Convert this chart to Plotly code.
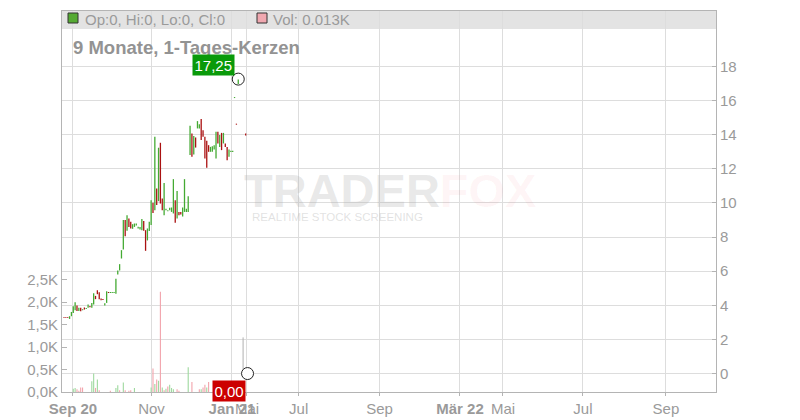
import plotly.graph_objects as go

# ---------------- data ----------------
day = list(range(92)) + [92, 93, 94, 98]
opens = [3.30, 3.30, 3.30, 3.20, 3.36, 3.55, 3.71, 3.99, 3.67, 3.85,
         3.71, 3.87, 3.78, 3.85, 3.96, 3.85, 4.04, 4.55, 4.88, 4.77,
         4.40, 4.37, 3.99, 4.14, 4.78, 4.72, 4.72, 4.72, 4.67, 5.80,
         6.04, 6.74, 7.27, 9.00, 8.36, 9.08, 8.90, 8.48, 8.59, 8.67,
         8.50, 8.44, 8.40, 8.94, 8.40, 7.80, 8.35, 8.70, 10.00, 9.57,
         10.84, 10.10, 13.52, 10.26, 9.28, 9.57, 9.51, 9.57, 9.47, 9.38,
         10.16, 9.08, 9.47, 9.47, 9.20, 9.47, 9.47, 9.47, 12.80, 14.07,
         12.84, 13.83, 14.36, 14.36, 14.91, 14.26, 13.87, 13.64, 13.38, 12.99,
         12.99, 13.13, 12.60, 14.16, 13.28, 14.10, 13.48, 13.48, 13.28, 12.70,
         12.98, 12.98,
         16.14, 14.64, 16.96, 14.07]
closes = [3.25, 3.25, 3.25, 3.36, 3.61, 3.95, 4.18, 3.67, 3.85, 3.65,
          3.77, 3.75, 3.84, 4.04, 3.89, 4.14, 4.71, 4.36, 4.65, 4.36,
          4.30, 4.31, 4.12, 4.82, 4.72, 4.78, 4.78, 4.78, 5.55, 6.04,
          6.41, 7.23, 8.99, 8.05, 9.28, 8.59, 8.50, 8.75, 8.79, 8.79,
          8.60, 8.59, 9.06, 8.36, 7.19, 8.50, 8.90, 10.16, 9.41, 13.87,
          9.87, 13.23, 9.96, 9.57, 11.17, 9.65, 9.57, 9.71, 9.73, 11.39,
          8.83, 10.70, 9.28, 9.32, 9.73, 11.39, 9.65, 10.39, 14.52, 12.70,
          13.91, 13.24, 14.79, 14.60, 13.68, 13.87, 12.60, 12.05, 12.99, 13.28,
          13.32, 13.38, 14.16, 13.48, 13.97, 13.09, 14.10, 13.28, 12.50, 13.13,
          13.06, 13.06,
          16.20, 14.58, 17.23, 13.95]
highs = [max(o, c) for o, c in zip(opens, closes)]
lows = [min(o, c) for o, c in zip(opens, closes)]

vol_day = [5, 6, 7, 8, 9, 10, 15, 16, 17, 18, 19, 25, 28, 29, 30, 32, 33, 35, 36, 38,
           47, 48, 49, 50, 51, 52, 53, 54, 55, 56, 57, 58, 59, 61, 62, 67, 69,
           73, 74, 75, 76, 77, 78]
vol_k = [0.07, 0.09, 0.06, 0.03, 0.10, 0.10, 0.24, 0.41, 0.09, 0.28, 0.04, 0.03, 0.09, 0.15,
         0.04, 0.21, 0.04, 0.03, 0.04, 0.09,
         0.10, 0.52, 0.18, 0.28, 0.25, 2.23, 0.10, 0.04, 0.07, 0.12, 0.16, 0.09, 0.06,
         0.06, 0.03, 0.55, 0.22, 0.06, 0.06, 0.10, 0.16, 0.10, 0.22]
vol_up = [1, 1, 0, 0, 0, 0, 1, 1, 0, 1, 0, 0, 1, 1, 0, 1, 0, 0, 0, 1,
          1, 0, 1, 0, 1, 0, 1, 0, 1, 0, 1, 1, 1, 0, 0, 1, 0, 0, 1, 0, 0, 1, 0]

last_line_day = [96.6, 96.6]
last_line_price = [0.0, 2.12]

hi_marker_day, hi_marker_price, hi_label = 94, 17.25, "17,25"
lo_marker_day, lo_marker_price, lo_label = 99, 0.0, "0,00"

tick_pos = [4.85, 47.2, 90.6, 98.7, 126.6, 170.2, 213.6, 236.8, 279.9, 324.7]
tick_txt = ["<b>Sep 20</b>", "Nov", "<b>Jan 21</b>", "Mai", "Jul", "Sep",
            "<b>Mär 22</b>", "Mai", "Jul", "Sep"]
price_ticks = [0, 2, 4, 6, 8, 10, 12, 14, 16, 18]
vol_ticks = [0, 0.5, 1.0, 1.5, 2.0, 2.5]
vol_tick_txt = ["0,0K", "0,5K", "1,0K", "1,5K", "2,0K", "2,5K"]

# ---------------- styling ----------------
FONT = "Liberation Sans, Arial, sans-serif"
GREY = "#9a9a9a"
GRID = "#dddddd"
AXL = "#b4b4b4"
UP = "#44aa33"
DN = "#aa1111"

W, H = 800, 420
L, R, T, B = 62, 84, 11, 28
PW, PH = W - L - R, H - T - B


def px(x):
    return (x - L) / PW


def py(y):
    return (H - B - y) / PH


fig = go.Figure()

fig.add_trace(go.Bar(
    x=vol_day, y=vol_k, yaxis="y2", width=0.6,
    marker=dict(color=["#9fd99f" if u else "#f2a4ac" for u in vol_up], line=dict(width=0)),
    hoverinfo="skip", showlegend=False))

fig.add_trace(go.Scatter(
    x=last_line_day, y=last_line_price, mode="lines",
    line=dict(color="#b0b0b0", width=1), hoverinfo="skip", showlegend=False))

# candles: body spans low..high, coloured by direction
fig.add_trace(go.Bar(
    x=day, base=lows, y=[h - l for h, l in zip(highs, lows)], width=0.7,
    marker=dict(color=[UP if c > o else DN for o, c in zip(opens, closes)], line=dict(width=0)),
    hoverinfo="skip", showlegend=False))

fig.add_trace(go.Scatter(
    x=[hi_marker_day], y=[hi_marker_price], mode="markers",
    marker=dict(symbol="circle-open", size=12, color="#222", line=dict(width=1)),
    hoverinfo="skip", showlegend=False))
fig.add_trace(go.Scatter(
    x=[lo_marker_day], y=[lo_marker_price], mode="markers",
    marker=dict(symbol="circle", size=12, color="white", line=dict(width=1, color="#222")),
    hoverinfo="skip", showlegend=False))

annotations = [
    # watermark
    dict(xref="paper", yref="paper", x=px(390), y=py(190), showarrow=False,
         text="<b>TRADER<span style='color:rgba(240,100,115,0.25)'>FOX</span></b>",
         font=dict(family=FONT, size=47, color="rgba(170,170,170,0.27)"),
         xanchor="center", yanchor="middle"),
    dict(xref="paper", yref="paper", x=px(250), y=py(217), showarrow=False,
         text="REALTIME STOCK SCREENING",
         font=dict(family=FONT, size=11.5, color="rgba(170,170,170,0.35)"),
         xanchor="left", yanchor="middle"),
    # header legend
    dict(xref="paper", yref="paper", x=px(83), y=py(20), showarrow=False,
         text="Op:0, Hi:0, Lo:0, Cl:0", font=dict(family=FONT, size=15, color=GREY),
         xanchor="left", yanchor="middle"),
    dict(xref="paper", yref="paper", x=px(271), y=py(20), showarrow=False,
         text="Vol: 0.013K", font=dict(family=FONT, size=15, color=GREY),
         xanchor="left", yanchor="middle"),
    # title
    dict(xref="paper", yref="paper", x=px(71), y=py(47.5), showarrow=False,
         text="<b>9 Monate, 1-Tages-Kerzen</b>", font=dict(family=FONT, size=18.5, color="#939393"),
         xanchor="left", yanchor="middle"),
    # value labels
    dict(x=hi_marker_day, y=hi_marker_price, showarrow=False, text=hi_label,
         font=dict(family=FONT, size=15, color="white"), bgcolor="#0a9a0a",
         xanchor="right", yanchor="bottom", xshift=-3, yshift=3, borderpad=1.5),
    dict(x=lo_marker_day, y=lo_marker_price, showarrow=False, text=lo_label,
         font=dict(family=FONT, size=15, color="white"), bgcolor="#cc0000",
         xanchor="right", yanchor="top", xshift=-2, yshift=-6, borderpad=1.5),
]

shapes = [
    dict(type="rect", xref="paper", yref="paper", x0=0, x1=1, y0=py(29), y1=1,
         fillcolor="#e3e3e3", line=dict(width=0), layer="below"),
    dict(type="rect", xref="paper", yref="paper", x0=px(68), x1=px(78), y0=py(23), y1=py(13),
         fillcolor="#55aa33", line=dict(color="#333", width=1)),
    dict(type="rect", xref="paper", yref="paper", x0=px(257), x1=px(267), y0=py(23), y1=py(13),
         fillcolor="#f0a8b0", line=dict(color="#333", width=1)),
]

fig.update_layout(
    width=W, height=H, margin=dict(l=L, r=R, t=T, b=B, autoexpand=False),
    paper_bgcolor="white", plot_bgcolor="white",
    font=dict(family=FONT, color=GREY, size=15),
    showlegend=False, barmode="overlay",
    annotations=annotations, shapes=shapes,
    xaxis=dict(range=[-1.08, 351.7], tickmode="array", tickvals=tick_pos, ticktext=tick_txt,
               tickangle=0, automargin=False,
               showgrid=True, gridcolor=GRID, gridwidth=1, zeroline=False,
               showline=True, linecolor=AXL, linewidth=1, mirror=True,
               ticks="outside", ticklen=3, tickcolor=AXL,
               tickfont=dict(family=FONT, size=15, color=GREY), fixedrange=True),
    yaxis=dict(range=[-1.08, 21.24], side="right", tickmode="array", tickvals=price_ticks,
               automargin=False,
               showgrid=True, gridcolor=GRID, gridwidth=1, zeroline=False,
               showline=True, linecolor=AXL, linewidth=1,
               ticks="inside", ticklen=4, tickcolor=AXL,
               tickfont=dict(family=FONT, size=15, color=GREY), fixedrange=True),
    yaxis2=dict(range=[0, 8.47], side="left", overlaying="y", tickmode="array",
                tickvals=vol_ticks, ticktext=vol_tick_txt, automargin=False,
                showgrid=False, zeroline=False, showline=True, linecolor=AXL, linewidth=1,
                ticks="inside", ticklen=5, tickcolor=AXL,
                tickfont=dict(family=FONT, size=15, color=GREY), fixedrange=True),
)

fig.write_html("out.html", config={"displayModeBar": False, "staticPlot": True},
               post_script="document.body.style.margin='0';document.body.style.overflow='hidden';")
